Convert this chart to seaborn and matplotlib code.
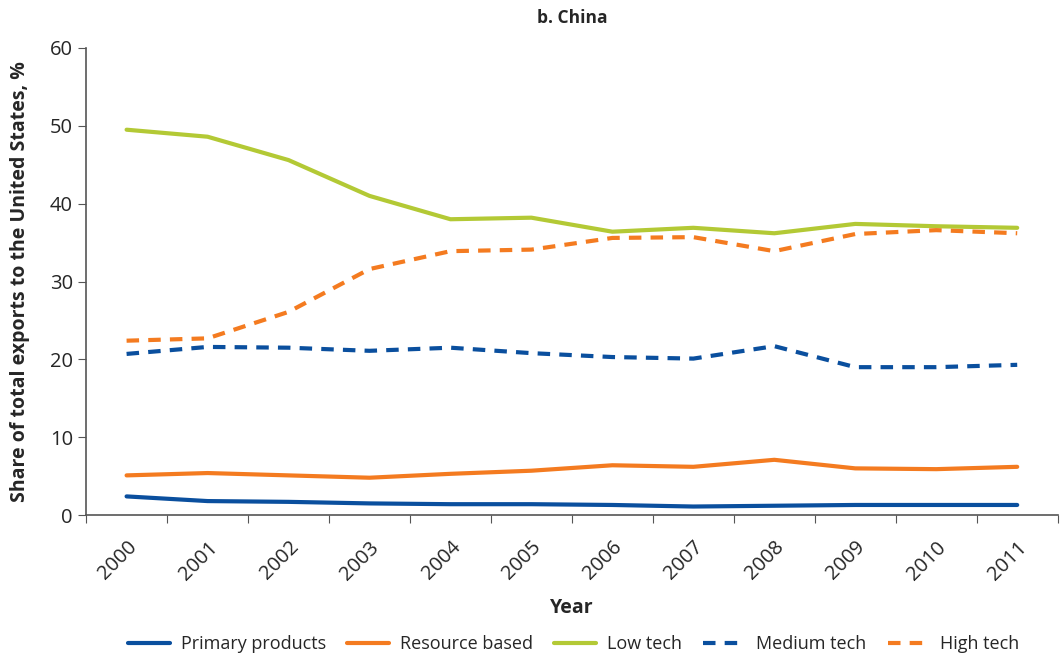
import matplotlib
matplotlib.use("Agg")
import matplotlib.pyplot as plt
from matplotlib.ticker import FixedLocator
import seaborn as sns
import pandas as pd

years = [str(y) for y in range(2000, 2012)]
primary = [2.4, 1.8, 1.7, 1.5, 1.4, 1.4, 1.3, 1.1, 1.2, 1.3, 1.3, 1.3]
resource = [5.1, 5.4, 5.1, 4.8, 5.3, 5.7, 6.4, 6.2, 7.1, 6.0, 5.9, 6.2]
low_tech = [49.5, 48.6, 45.6, 41.0, 38.0, 38.2, 36.4, 36.9, 36.2, 37.4, 37.1, 36.9]
medium_tech = [20.7, 21.6, 21.5, 21.1, 21.5, 20.8, 20.3, 20.1, 21.7, 19.0, 19.0, 19.3]
high_tech = [22.4, 22.7, 26.1, 31.6, 33.9, 34.1, 35.6, 35.7, 33.9, 36.1, 36.6, 36.2]

series = ["Primary products", "Resource based", "Low tech", "Medium tech", "High tech"]
colors = ["#0a4f9e", "#f47b20", "#b3c935", "#0a4f9e", "#f47b20"]
styles = ["-", "-", "-", (0, (3, 2.2)), (0, (3, 2.2))]

rows = []
for name, vals in zip(series, [primary, resource, low_tech, medium_tech, high_tech]):
    for i, v in enumerate(vals):
        rows.append({"idx": i, "value": v, "series": name})
df = pd.DataFrame(rows)

sns.set_style("ticks")
plt.rcParams["font.family"] = ["Open Sans", "DejaVu Sans"]

fig = plt.figure(figsize=(10.63, 6.57), dpi=100)
ax = fig.add_axes([0.081, 0.216, 0.914, 0.711])

for name, c, ls in zip(series, colors, styles):
    d = df[df["series"] == name]
    sns.lineplot(data=d, x="idx", y="value", ax=ax, color=c, linewidth=3,
                 linestyle=ls, label=name)

ax.set_xlim(-0.5, len(years) - 0.5)
ax.set_ylim(0, 60)
ax.set_yticks(range(0, 61, 10))
ax.xaxis.set_major_locator(FixedLocator([i - 0.5 for i in range(len(years) + 1)]))
ax.xaxis.set_minor_locator(FixedLocator(list(range(len(years)))))
ax.set_xticklabels([])
ax.set_xticklabels(years, minor=True, rotation=45, ha="right", rotation_mode="anchor")
ax.tick_params(axis="x", which="minor", length=0, labelsize=14.5, pad=16)
ax.tick_params(axis="x", which="major", length=6, color="#555555")
ax.tick_params(axis="y", labelsize=14.5, length=6, color="#555555")
for s in ["top", "right"]:
    ax.spines[s].set_visible(False)
for s in ["left", "bottom"]:
    ax.spines[s].set_color("#555555")
    ax.spines[s].set_linewidth(1.2)

ax.set_xlabel("Year", fontsize=14, fontweight="bold", labelpad=10)
ax.set_ylabel("Share of total exports to the United States, %", fontsize=14,
              fontweight="bold", labelpad=14)
ax.set_title("b. China", fontsize=12.5, fontweight="bold", pad=18)

ax.legend(loc="upper center", bbox_to_anchor=(0.502, -0.222), ncol=5, frameon=False,
          fontsize=13, handlelength=2.3, columnspacing=1.2, handletextpad=0.6)

fig.savefig("out.png", dpi=100)
